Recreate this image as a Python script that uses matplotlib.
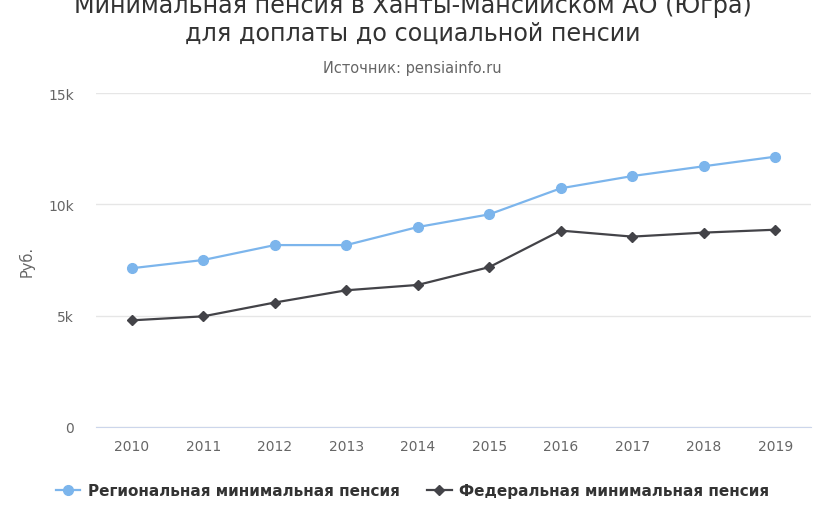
import matplotlib
matplotlib.use("Agg")
import matplotlib.pyplot as plt
from matplotlib.ticker import FuncFormatter
from matplotlib.lines import Line2D

plt.rcParams['font.family'] = ['DejaVu Sans']

years = ["2010", "2011", "2012", "2013", "2014", "2015", "2016", "2017", "2018", "2019"]
regional = [7130, 7500, 8170, 8170, 8980, 9550, 10720, 11270, 11710, 12140]
federal = [4790, 4970, 5590, 6140, 6380, 7180, 8820, 8550, 8730, 8860]
series_names = ["Региональная минимальная пенсия", "Федеральная минимальная пенсия"]
title = "Минимальная пенсия в Ханты-Мансийском АО (Югра)\nдля доплаты до социальной пенсии"
subtitle = "Источник: pensiainfo.ru"
y_label = "Руб."

W, H = 825, 510
fig = plt.figure(figsize=(W / 100, H / 100), dpi=100)
ax = fig.add_axes([96 / W, 1 - 428 / H, (811 - 96) / W, (428 - 94) / H])

x = list(range(len(years)))
ax.plot(x, regional, color="#7cb5ec", lw=1.6, marker="o", ms=7, zorder=3)
ax.plot(x, federal, color="#434348", lw=1.6, marker="D", ms=5.5, zorder=3)

ax.set_xlim(-0.5, len(years) - 0.5)
ax.set_ylim(0, 15000)
ax.set_yticks([0, 5000, 10000, 15000])
ax.yaxis.set_major_formatter(FuncFormatter(lambda v, p: "0" if v == 0 else f"{int(v/1000)}k"))
ax.set_xticks(x)
ax.set_xticklabels(years)
ax.grid(axis="y", color="#e6e6e6", lw=1)
ax.set_axisbelow(True)
for s in ["top", "right", "left"]:
    ax.spines[s].set_visible(False)
ax.spines["bottom"].set_color("#ccd6eb")
ax.tick_params(axis="y", length=0, pad=16, labelsize=10, labelcolor="#666666")
ax.tick_params(axis="x", length=0, pad=9, labelsize=10, labelcolor="#666666")
ax.set_ylabel(y_label, color="#666666", fontsize=10.5, labelpad=10)

fig.text(0.5, 1 - 20 / H, title, ha="center", va="center", fontsize=17.2,
         color="#333333", linespacing=1.2)
fig.text(0.5, 1 - 68 / H, subtitle, ha="center", va="center", fontsize=10.5, color="#666666")

handles = [
    Line2D([0], [0], color="#7cb5ec", lw=1.6, marker="o", ms=7),
    Line2D([0], [0], color="#434348", lw=1.6, marker="D", ms=5.5),
]
leg = fig.legend(handles, series_names, loc="center", bbox_to_anchor=(0.5, 1 - 492 / H),
                 ncol=2, frameon=False, handlelength=1.6, handletextpad=0.5, columnspacing=1.8,
                 prop={"weight": "bold", "size": 11})
for t in leg.get_texts():
    t.set_color("#333333")

fig.savefig("out.png", dpi=100)
